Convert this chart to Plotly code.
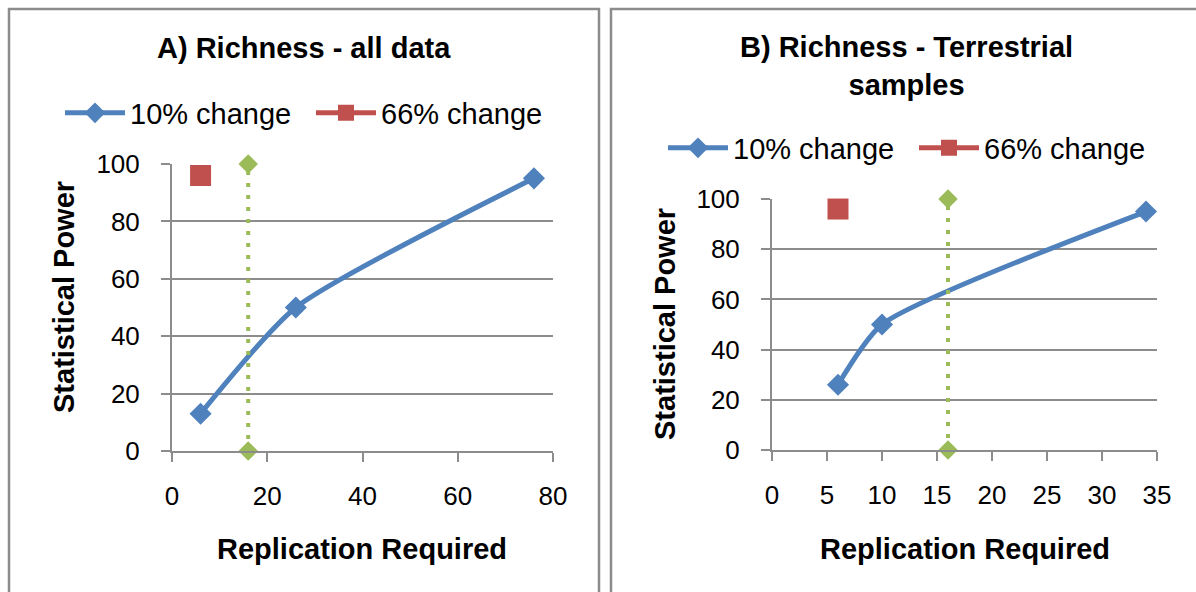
import plotly.graph_objects as go

# ---------------- data ----------------
# Panel A: Richness - all data
a_x10 = [6, 26, 76]
a_y10 = [13, 50, 95]
a_x66 = [6]
a_y66 = [96]
a_xref = [16, 16]
a_yref = [0, 100]
a_xticks = [0, 20, 40, 60, 80]

# Panel B: Richness - Terrestrial samples
b_x10 = [6, 10, 34]
b_y10 = [26, 50, 95]
b_x66 = [6]
b_y66 = [96]
b_xref = [16, 16]
b_yref = [0, 100]
b_xticks = [0, 5, 10, 15, 20, 25, 30, 35]

y_ticks = [0, 20, 40, 60, 80, 100]

title_a = "A) Richness - all data"
title_b = "B) Richness - Terrestrial<br>samples"
name10 = "10% change"
name66 = "66% change"
xtitle = "Replication Required"
ytitle = "Statistical Power"

# ---------------- style ----------------
W, H = 1196, 592
BLUE = "#4F81BD"
RED = "#C0504D"
GREEN = "#9BBB59"
GRID = "#8C8C8C"
FONT = "Liberation Sans, Arial, sans-serif"
TICK_SIZE = 26
TXT_SIZE = 29


def px_x(p):
    return p / W


def px_y(p):
    return 1 - p / H


fig = go.Figure()


def add_panel(xs10, ys10, xs66, ys66, xr, yr, xa, ya, legend):
    fig.add_trace(go.Scatter(
        x=xs10, y=ys10, name=name10, mode="lines+markers",
        line=dict(color=BLUE, width=5, shape="spline", smoothing=0.6),
        marker=dict(symbol="diamond", size=17, color=BLUE),
        xaxis=xa, yaxis=ya, legend=legend, cliponaxis=False))
    fig.add_trace(go.Scatter(
        x=xs66, y=ys66, name=name66, mode="lines+markers",
        line=dict(color=RED, width=5),
        marker=dict(symbol="square", size=21, color=RED),
        xaxis=xa, yaxis=ya, legend=legend, cliponaxis=False))
    fig.add_trace(go.Scatter(
        x=xr, y=yr, mode="lines+markers", showlegend=False,
        line=dict(color=GREEN, width=4, dash="4px,8px"),
        marker=dict(symbol="diamond", size=15, color=GREEN),
        xaxis=xa, yaxis=ya, cliponaxis=False))


add_panel(a_x10, a_y10, a_x66, a_y66, a_xref, a_yref, "x", "y", "legend")
add_panel(b_x10, b_y10, b_x66, b_y66, b_xref, b_yref, "x2", "y2", "legend2")

axis_common = dict(
    showgrid=False, showline=True, linecolor=GRID, linewidth=2,
    ticks="outside", ticklen=9, tickwidth=2, tickcolor=GRID,
    tickfont=dict(family=FONT, size=TICK_SIZE, color="#000"),
    zeroline=False, fixedrange=True, automargin=False,
)
yaxis_common = dict(
    showgrid=True, gridcolor=GRID, gridwidth=2,
    showline=True, linecolor=GRID, linewidth=2,
    ticks="outside", ticklen=9, tickwidth=2, tickcolor=GRID,
    tickfont=dict(family=FONT, size=TICK_SIZE, color="#000"),
    zeroline=False, fixedrange=True, range=[0, 100], automargin=False,
    tickvals=y_ticks, ticklabelstandoff=16,
)

# plot-area pixel boxes
A = dict(x0=172, x1=553, ytop=164, ybot=451)
B = dict(x0=772, x1=1157, ytop=199, ybot=450)

legend_common = dict(orientation="h", xanchor="left", yanchor="middle",
                     font=dict(family=FONT, size=TXT_SIZE), itemwidth=60,
                     entrywidth=176, entrywidthmode="pixels",
                     bgcolor="rgba(0,0,0,0)")

fig.update_layout(
    width=W, height=H, margin=dict(l=0, r=0, t=0, b=0, pad=0, autoexpand=False),
    paper_bgcolor="white", plot_bgcolor="white",
    font=dict(family=FONT, size=TXT_SIZE, color="#000"),
    xaxis=dict(axis_common, domain=[px_x(A["x0"]), px_x(A["x1"])], range=[0, 80],
               tickvals=a_xticks, anchor="y", ticklabelstandoff=12),
    yaxis=dict(yaxis_common, domain=[px_y(A["ybot"]), px_y(A["ytop"])], anchor="x"),
    xaxis2=dict(axis_common, domain=[px_x(B["x0"]), px_x(B["x1"])], range=[0, 35],
                tickvals=b_xticks, anchor="y2", ticklabelstandoff=12),
    yaxis2=dict(yaxis_common, domain=[px_y(B["ybot"]), px_y(B["ytop"])], anchor="x2"),
    legend=dict(legend_common, x=px_x(60), y=px_y(113)),
    legend2=dict(legend_common, x=px_x(663), y=px_y(148)),
    showlegend=True,
)

# panel frames
fig.add_shape(type="rect", xref="paper", yref="paper",
              x0=px_x(9), x1=px_x(599), y0=px_y(600), y1=px_y(9),
              line=dict(color="#8C8C8C", width=2.5), fillcolor="rgba(0,0,0,0)", layer="below")
fig.add_shape(type="rect", xref="paper", yref="paper",
              x0=px_x(611), x1=px_x(1205), y0=px_y(600), y1=px_y(9),
              line=dict(color="#8C8C8C", width=2.5), fillcolor="rgba(0,0,0,0)", layer="below")


def ann(text, x, y, bold=True, angle=0, size=TXT_SIZE):
    fig.add_annotation(text=f"<b>{text}</b>" if bold else text, xref="paper", yref="paper",
                       x=px_x(x), y=px_y(y), xanchor="center", yanchor="middle",
                       showarrow=False, textangle=angle,
                       font=dict(family=FONT, size=size, color="#000"))


ann(title_a, 304, 48)
ann(title_b, 906, 66)
ann(xtitle, 362, 549)
ann(xtitle, 965, 549)
ann(ytitle, 64, 297, angle=-90)
ann(ytitle, 665, 324, angle=-90)

fig.write_html("out.html")
